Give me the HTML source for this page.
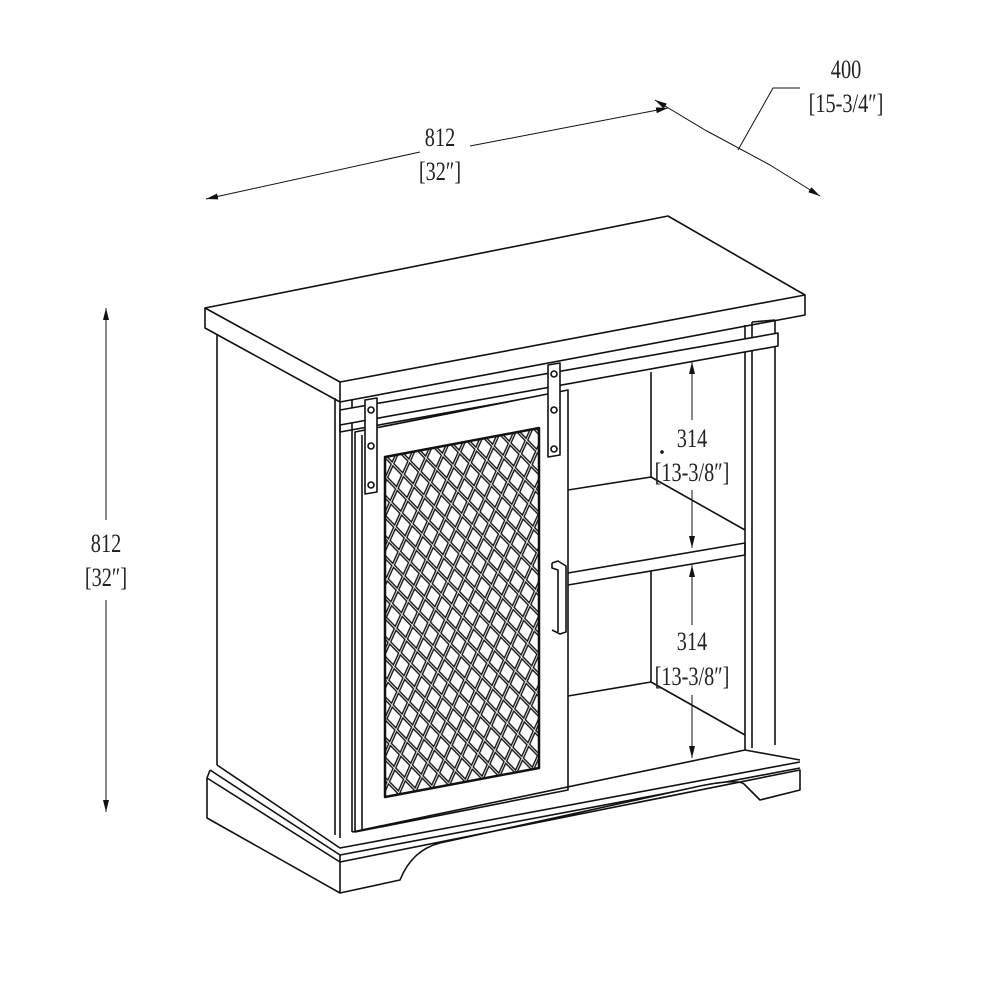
<!DOCTYPE html>
<html><head><meta charset="utf-8"><style>
html,body{margin:0;padding:0;background:#fff;}
svg{display:block;}
text{font-family:"Liberation Serif",serif;font-size:26px;fill:#222;}
</style></head><body>
<svg width="1000" height="1000" viewBox="0 0 1000 1000" xmlns="http://www.w3.org/2000/svg">
<defs>
<marker id="ar" markerWidth="12" markerHeight="6" refX="12" refY="3" orient="auto" markerUnits="userSpaceOnUse">
<path d="M0,0 L12,3 L0,6 z" fill="#111"/></marker>
<pattern id="mesh" width="17" height="25" patternUnits="userSpaceOnUse" patternTransform="rotate(-10)">
<rect width="17" height="25" fill="#fff"/>
<path d="M-8.5,-12.5 L25.5,37.5 M8.5,-12.5 L-25.5,37.5 M8.5,-12.5 L42.5,37.5 M25.5,-12.5 L-8.5,37.5" stroke="#111" stroke-width="3.6"/>
<path d="M-8.5,-12.5 L25.5,37.5 M8.5,-12.5 L-25.5,37.5 M8.5,-12.5 L42.5,37.5 M25.5,-12.5 L-8.5,37.5" stroke="#fff" stroke-width="0.9"/>
</pattern>
</defs>
<g fill="none" stroke="#111" stroke-width="1.6" stroke-linejoin="round">
<path d="M205,308 L668,216 L805,295 L340,382 Z" fill="#fff"/>
<path d="M205,308 L205,328 L340,402 L805,315 L805,295 M340,382 L340,402"/>
<path d="M217,335 L217,765 M335,398 L335,835 M340,402 L340,838 M352,400 L352,832"/>
<path d="M752,322 L752,748 M745,325 L745,750 M775,320 L775,745 M752,322 L775,320"/>
<path d="M340,410 L778,333 L778,346 L340,425 Z" fill="#fff"/>
<path d="M340,425 L340,432 L562,392"/>
<path d="M355,432 L568,390 L568,790 L355,832 Z" fill="#fff"/>
<path d="M362,435 L362,830"/>
<path d="M385,457 L539,428 L539,768 L385,797 Z" fill="url(#mesh)" stroke-width="2.5"/>
<path d="M365,400 L377,398 L377,492 L365,494 Z" fill="#fff"/>
<circle cx="371" cy="410" r="3"/><circle cx="371" cy="446" r="3"/><circle cx="371" cy="485" r="3"/>
<path d="M548,365 L560,363 L560,455 L548,457 Z" fill="#fff"/>
<circle cx="554" cy="374" r="3"/><circle cx="554" cy="410" r="3"/><circle cx="554" cy="449" r="3"/>
<path d="M552,563 L558,561 L566,566 L566,632 L560,634 L552,630 M552,563 L552,568 L558,570 L558,632"/>
<path d="M651,372 L651,477 M568,490 L651,477 L745,530"/>
<path d="M568,573 L745,543 L745,555 L568,585"/>
<path d="M651,571 L651,682 M568,696 L651,682 L745,735"/>
<path d="M217,765 L340,848 L800,762 M210,770 L340,855 L800,768 M352,832 L745,750 L800,760"/>
<path d="M207,778 L340,862 L800,770 L800,790 L760,800 L745,785 Q740,778 700,786 L440,843 Q412,850 400,880 L340,893 L207,818 Z" fill="#fff"/>
<path d="M340,862 L340,893 M207,778 L210,770 M340,855 L340,862"/>
</g>
<g stroke="#111" stroke-width="1" fill="none">
<line x1="420" y1="152" x2="206" y2="199" marker-end="url(#ar)"/>
<line x1="470" y1="146" x2="668" y2="108" marker-end="url(#ar)"/>
<line x1="705" y1="130" x2="655" y2="100" marker-end="url(#ar)"/>
<line x1="770" y1="165" x2="820" y2="196" marker-end="url(#ar)"/>
<line x1="705" y1="130" x2="770" y2="165"/>
<path d="M738,150 L773,88 L800,88"/>
<line x1="106" y1="520" x2="106" y2="308" marker-end="url(#ar)"/>
<line x1="106" y1="600" x2="106" y2="812" marker-end="url(#ar)"/>
<line x1="692" y1="420" x2="692" y2="362" marker-end="url(#ar)"/>
<line x1="692" y1="490" x2="692" y2="548" marker-end="url(#ar)"/>
<line x1="692" y1="625" x2="692" y2="565" marker-end="url(#ar)"/>
<line x1="692" y1="695" x2="692" y2="758" marker-end="url(#ar)"/>
</g>
<circle cx="662" cy="452" r="1.8" fill="#111"/>
<g text-anchor="middle">
<g transform="translate(440,146) scale(0.78,1)"><text>812</text></g>
<g transform="translate(440,180) scale(0.78,1)"><text>[32″]</text></g>
<g transform="translate(846,78) scale(0.78,1)"><text>400</text></g>
<g transform="translate(846,112) scale(0.78,1)"><text>[15-3/4″]</text></g>
<g transform="translate(106,552) scale(0.78,1)"><text>812</text></g>
<g transform="translate(106,586) scale(0.78,1)"><text>[32″]</text></g>
<g transform="translate(692,447) scale(0.78,1)"><text>314</text></g>
<g transform="translate(692,481) scale(0.78,1)"><text>[13-3/8″]</text></g>
<g transform="translate(692,650) scale(0.78,1)"><text>314</text></g>
<g transform="translate(692,685) scale(0.78,1)"><text>[13-3/8″]</text></g>
</g>
</svg>
</body></html>
